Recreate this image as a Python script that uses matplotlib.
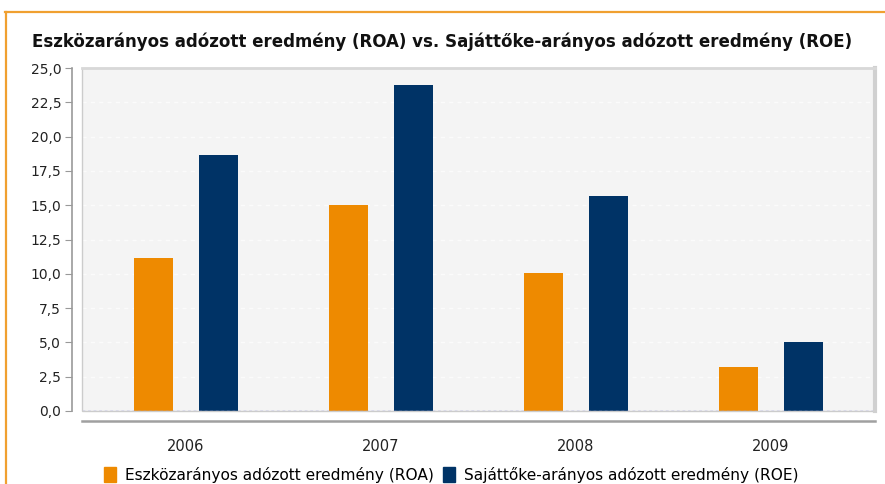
import matplotlib
matplotlib.use("Agg")
import matplotlib.pyplot as plt
from matplotlib.patches import Rectangle
from matplotlib.lines import Line2D
import numpy as np

years = ["2006", "2007", "2008", "2009"]
roa = [11.15, 15.0, 10.05, 3.2]
roe = [18.65, 23.75, 15.65, 5.0]
series_names = ["Eszközarányos adózott eredmény (ROA)", "Sajáttőke-arányos adózott eredmény (ROE)"]
title = "Eszközarányos adózott eredmény (ROA) vs. Sajáttőke-arányos adózott eredmény (ROE)"
yticks = [0, 2.5, 5, 7.5, 10, 12.5, 15, 17.5, 20, 22.5, 25]

C_ROA = "#EE8A00"
C_ROE = "#003366"

W, H = 885, 484
fig = plt.figure(figsize=(W / 100, H / 100), dpi=100)
fig.patch.set_facecolor("white")

# orange outer border (cropped box)
fig.add_artist(Line2D([5 / W, 1], [1 - 12 / H, 1 - 12 / H], transform=fig.transFigure,
                      color="#F0A030", lw=1.6))
fig.add_artist(Line2D([6 / W, 6 / W], [0, 1 - 12 / H], transform=fig.transFigure,
                      color="#F0A030", lw=1.6))

left, right, top, bottom = 82, 875, 68, 411
ax = fig.add_axes([left / W, 1 - bottom / H, (right - left) / W, (bottom - top) / H])
ax.set_facecolor("#F4F4F4")

x = np.arange(len(years))
bw = 0.2
off = 1 / 6
ax.bar(x - off, roa, bw, color=C_ROA, zorder=3, label=series_names[0])
ax.bar(x + off, roe, bw, color=C_ROE, zorder=3, label=series_names[1])

ax.set_xlim(-0.533, 3.533)
ax.set_ylim(0, 25)
ax.set_yticks(yticks)
ax.set_yticklabels([f"{v:.1f}".replace(".", ",") for v in yticks])
ax.set_xticks(x)
ax.set_xticklabels(years)

for v in yticks[1:-1]:
    ax.axhline(v, color="#FBFBFB", lw=1, ls=(0, (3, 3)), zorder=1)
ax.axhline(0, color="#8888DD", lw=1, ls=(0, (2, 2)), zorder=4)

for s in ["top", "right"]:
    ax.spines[s].set_visible(False)
ax.spines["left"].set_position(("outward", 7))
ax.spines["bottom"].set_position(("outward", 7))
ax.spines["left"].set_color("#999999")
ax.spines["left"].set_linewidth(1.2)
ax.spines["bottom"].set_color("#A0A0A0")
ax.spines["bottom"].set_linewidth(1.8)

ax.add_patch(Rectangle((0, 0), 1, 1, transform=ax.transAxes, fill=False,
                       edgecolor="#CCCCCC", lw=1, zorder=5, clip_on=False))
ax.add_artist(Line2D([1, 1], [0, 1], transform=ax.transAxes, color="#D0D0D0", lw=3,
                     zorder=5, clip_on=False))
ax.add_artist(Line2D([0, 1], [1, 1], transform=ax.transAxes, color="#D8D8D8", lw=2,
                     zorder=5, clip_on=False))

ax.tick_params(axis="y", length=5, color="#999999", labelsize=10, pad=3, labelcolor="#222222")
ax.tick_params(axis="x", length=0, labelsize=10.5, pad=13, labelcolor="#222222")

fig.text(0.5, 1 - 42 / H, title, ha="center", va="center", fontsize=13.3,
         fontweight="bold", family="DejaVu Sans", fontstretch="condensed", color="#111111")

handles = [Rectangle((0, 0), 1, 1, color=C_ROA), Rectangle((0, 0), 1, 1, color=C_ROE)]
fig.legend(handles, series_names, loc="center", bbox_to_anchor=(0.51, 1 - 475 / H),
           ncol=2, frameon=False, fontsize=11.1, handlelength=0.75, handleheight=1.1,
           handletextpad=0.6, columnspacing=0.6)

fig.savefig("out.png", dpi=100, facecolor="white")
